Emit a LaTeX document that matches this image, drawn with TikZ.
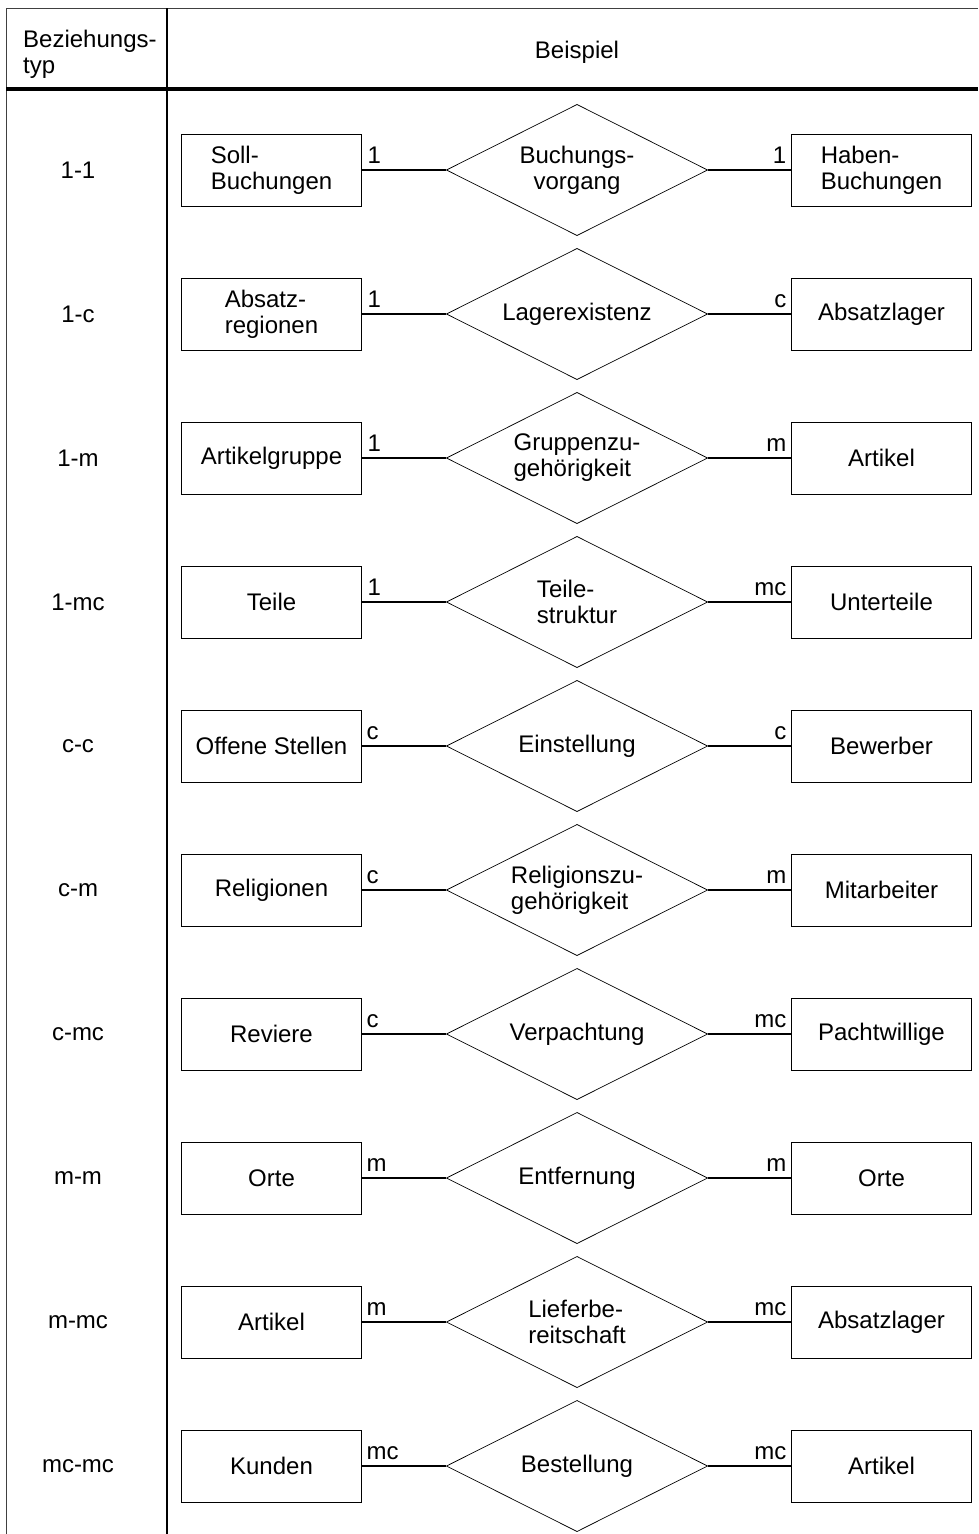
\documentclass[tikz,border=0pt]{standalone}
\usepackage{fontspec}
\setmainfont{Liberation Sans}
\usetikzlibrary{
  positioning,
  shapes.geometric
}

\begin{document}
\begin{tikzpicture}[
    x=1pt,y=1pt,
    every node/.style={font=\fontsize{24}{26}\selectfont},
    entitaet/.style={
    draw,
    minimum width=180pt,
    minimum height=72pt,
    outer sep=0pt,
    align=left,
    line width=0.9pt
    },
    relation/.style={
    draw,
    diamond,
    shape aspect=2,
    inner sep=0pt,
    outer sep=0pt,
    minimum width=261pt,
    minimum height=131pt,
    align=left,
    line width=0.7pt
    },
    kard/.style={inner sep=0pt},
    linie/.style={line width=1.6pt},
    rahmen/.style={draw=black!75,line width=1pt}
    ]

    \useasboundingbox (0,0) rectangle (978,-1534);

    % Tabellenrahmen
    \draw[rahmen] (6,-1534) -- (6,-8) -- (978,-8);
    \draw[line width=1.8pt] (167,-8) -- (167,-1534);
    \draw[line width=4pt] (6,-89) -- (978,-89);

    \node[anchor=west,align=left,inner sep=0pt] (kopf1) at (23,-54)
    {Beziehungs-\\typ};
    \node (kopf2) at (577,-52) {Beispiel};
    \coordinate (typspalte) at (78,0);

    % 1-1
    \node[entitaet] (l1) at (271.5,-170)
    {Soll-\\Buchungen};
    \node[relation,align=center,right=85pt of l1]
    (d1){Buchungs-\\vorgang};
    \node[entitaet,right=84pt of d1]
    (r1){Haben-\\Buchungen};

    % 1-c
    \node[entitaet,below=72pt of l1]
    (l2){Absatz-\\regionen};
    \node[relation,right=85pt of l2]
    (d2){Lagerexistenz};
    \node[entitaet,right=84pt of d2]
    (r2){Absatzlager};

    % 1-m
    \node[entitaet,below=72pt of l2]
    (l3){Artikelgruppe};
    \node[relation,right=85pt of l3]
    (d3){Gruppenzu-\\gehörigkeit};
    \node[entitaet,right=84pt of d3]
    (r3){Artikel};

    % 1-mc
    \node[entitaet,below=72pt of l3]
    (l4){Teile};
    \node[relation,right=85pt of l4]
    (d4){Teile-\\struktur};
    \node[entitaet,right=84pt of d4]
    (r4){Unterteile};

    % c-c
    \node[entitaet,below=72pt of l4]
    (l5){Offene Stellen};
    \node[relation,right=85pt of l5]
    (d5){Einstellung};
    \node[entitaet,right=84pt of d5]
    (r5){Bewerber};

    % c-m
    \node[entitaet,below=72pt of l5]
    (l6){Religionen};
    \node[relation,right=85pt of l6]
    (d6){Religionszu-\\gehörigkeit};
    \node[entitaet,right=84pt of d6]
    (r6){Mitarbeiter};

    % c-mc
    \node[entitaet,below=72pt of l6]
    (l7){Reviere};
    \node[relation,right=85pt of l7]
    (d7){Verpachtung};
    \node[entitaet,right=84pt of d7]
    (r7){Pachtwillige};

    % m-m
    \node[entitaet,below=72pt of l7]
    (l8){Orte};
    \node[relation,right=85pt of l8]
    (d8){Entfernung};
    \node[entitaet,right=84pt of d8]
    (r8){Orte};

    % m-mc
    \node[entitaet,below=72pt of l8]
    (l9){Artikel};
    \node[relation,right=85pt of l9]
    (d9){Lieferbe-\\reitschaft};
    \node[entitaet,right=84pt of d9]
    (r9){Absatzlager};

    % mc-mc
    \node[entitaet,below=72pt of l9]
    (l10){Kunden};
    \node[relation,right=85pt of l10]
    (d10){Bestellung};
    \node[entitaet,right=84pt of d10]
    (r10){Artikel};

    % Beziehungstypen
    \node (t1) at (typspalte |- l1) {1-1};
    \node (t2) at (typspalte |- l2) {1-c};
    \node (t3) at (typspalte |- l3) {1-m};
    \node (t4) at (typspalte |- l4) {1-mc};
    \node (t5) at (typspalte |- l5) {c-c};
    \node (t6) at (typspalte |- l6) {c-m};
    \node (t7) at (typspalte |- l7) {c-mc};
    \node (t8) at (typspalte |- l8) {m-m};
    \node (t9) at (typspalte |- l9) {m-mc};
    \node (t10) at (typspalte |- l10) {mc-mc};

    % Verbindungen
    \draw[linie](l1)--(d1);  \draw[linie](d1)--(r1);
    \draw[linie](l2)--(d2);  \draw[linie](d2)--(r2);
    \draw[linie](l3)--(d3);  \draw[linie](d3)--(r3);
    \draw[linie](l4)--(d4);  \draw[linie](d4)--(r4);
    \draw[linie](l5)--(d5);  \draw[linie](d5)--(r5);
    \draw[linie](l6)--(d6);  \draw[linie](d6)--(r6);
    \draw[linie](l7)--(d7);  \draw[linie](d7)--(r7);
    \draw[linie](l8)--(d8);  \draw[linie](d8)--(r8);
    \draw[linie](l9)--(d9);  \draw[linie](d9)--(r9);
    \draw[linie](l10)--(d10);\draw[linie](d10)--(r10);

    % Kardinalitaeten
    \node[kard,anchor=base west] (k1a) at ([xshift=6pt,yshift=7pt]l1.east) {1};
    \node[kard,anchor=base east] (k1b) at ([xshift=-5pt,yshift=7pt]r1.west) {1};
    \node[kard,anchor=base west] (k2a) at ([xshift=6pt,yshift=7pt]l2.east) {1};
    \node[kard,anchor=base east] (k2b) at ([xshift=-5pt,yshift=7pt]r2.west) {c};
    \node[kard,anchor=base west] (k3a) at ([xshift=6pt,yshift=7pt]l3.east) {1};
    \node[kard,anchor=base east] (k3b) at ([xshift=-5pt,yshift=7pt]r3.west) {m};
    \node[kard,anchor=base west] (k4a) at ([xshift=6pt,yshift=7pt]l4.east) {1};
    \node[kard,anchor=base east] (k4b) at ([xshift=-5pt,yshift=7pt]r4.west) {mc};
    \node[kard,anchor=base west] (k5a) at ([xshift=5pt,yshift=7pt]l5.east) {c};
    \node[kard,anchor=base east] (k5b) at ([xshift=-5pt,yshift=7pt]r5.west) {c};
    \node[kard,anchor=base west] (k6a) at ([xshift=5pt,yshift=7pt]l6.east) {c};
    \node[kard,anchor=base east] (k6b) at ([xshift=-5pt,yshift=7pt]r6.west) {m};
    \node[kard,anchor=base west] (k7a) at ([xshift=5pt,yshift=7pt]l7.east) {c};
    \node[kard,anchor=base east] (k7b) at ([xshift=-5pt,yshift=7pt]r7.west) {mc};
    \node[kard,anchor=base west] (k8a) at ([xshift=5pt,yshift=7pt]l8.east) {m};
    \node[kard,anchor=base east] (k8b) at ([xshift=-5pt,yshift=7pt]r8.west) {m};
    \node[kard,anchor=base west] (k9a) at ([xshift=5pt,yshift=7pt]l9.east) {m};
    \node[kard,anchor=base east] (k9b) at ([xshift=-5pt,yshift=7pt]r9.west) {mc};
    \node[kard,anchor=base west] (k10a) at ([xshift=5pt,yshift=7pt]l10.east) {mc};
    \node[kard,anchor=base east] (k10b) at ([xshift=-5pt,yshift=7pt]r10.west) {mc};

\end{tikzpicture}
\end{document}
